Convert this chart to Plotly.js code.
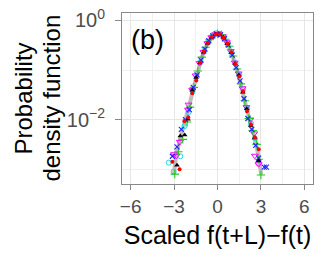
<!DOCTYPE html>
<html>
<head>
<meta charset="utf-8">
<script src="https://cdn.plot.ly/plotly-3.0.1.min.js"></script>
<style>html,body{margin:0;padding:0;background:#fff;}#chart{width:327px;height:256px;}</style>
</head>
<body>
<div id="chart"></div>
<script>
// Reference (theory) curve
var refX = [-3.02,-2.85,-2.55,-2.25,-1.95,-1.65,-1.35,-1.05,-0.75,-0.45,-0.15,0.15,0.45,0.75,1.05,1.35,1.65,1.95,2.25,2.55,2.85,3.02];
var refY = [0.000759,0.00200,0.00447,0.00891,0.0191,0.0447,0.100,0.191,0.316,0.447,0.525,0.525,0.447,0.316,0.191,0.100,0.0447,0.0191,0.00891,0.00447,0.00178,0.000759];

// Red filled circles
var redX = [-3.12,-2.62,-2.29,-2.02,-1.74,-1.47,-1.20,-0.93,-0.66,-0.39,-0.12,0.15,0.42,0.69,0.96,1.23,1.50,1.77,2.04,2.31,2.58,2.85];
var redY = [0.00141,0.00100,0.00933,0.0112,0.0339,0.0617,0.141,0.240,0.355,0.468,0.525,0.525,0.447,0.339,0.229,0.132,0.0741,0.0372,0.0148,0.00794,0.00437,0.00251];

// Black filled triangles
var blackX = [-2.80,-2.57,-2.27,-2.04,-1.74,-1.48,-1.22,-0.95,-0.68,-0.41,-0.14,0.13,0.40,0.67,0.94,1.21,1.48,1.75,2.02,2.29,2.56,2.84];
var blackY = [0.00120,0.00468,0.00490,0.0102,0.0389,0.0708,0.138,0.229,0.347,0.457,0.525,0.525,0.457,0.339,0.224,0.135,0.0794,0.0355,0.0166,0.00759,0.00427,0.00148];

// Green plus
var greenX = [-2.95,-2.70,-2.40,-2.10,-1.90,-1.63,-1.36,-1.09,-0.82,-0.55,-0.28,0.00,0.27,0.54,0.81,1.08,1.35,1.62,1.89,2.16,2.43,2.70,2.85,3.00];
var greenY = [0.000794,0.00224,0.00398,0.00891,0.0178,0.0447,0.0955,0.182,0.288,0.407,0.490,0.537,0.513,0.417,0.302,0.191,0.105,0.0525,0.0240,0.0105,0.00603,0.00316,0.00158,0.000759];

// Blue x
var blueX = [-3.12,-2.80,-2.50,-2.22,-1.95,-1.68,-1.41,-1.14,-0.87,-0.60,-0.33,-0.06,0.21,0.48,0.75,1.02,1.29,1.56,1.83,2.10,2.37,2.64,2.84,3.23,3.38];
var blueY = [0.00182,0.00282,0.00631,0.0100,0.0158,0.0447,0.0794,0.158,0.263,0.389,0.490,0.537,0.513,0.427,0.316,0.200,0.112,0.0603,0.0263,0.0105,0.00631,0.00302,0.00166,0.00110,0.00110];

// Cyan open circles
var cyanX = [-3.37,-3.03,-2.57,-2.27,-2.00,-1.73,-1.46,-1.19,-0.92,-0.65,-0.38,-0.11,0.16,0.43,0.70,0.97,1.24,1.51,1.78,2.05,2.32,2.59,2.80];
var cyanY = [0.00135,0.000891,0.00182,0.00741,0.0141,0.0380,0.0759,0.145,0.245,0.363,0.479,0.550,0.537,0.457,0.339,0.229,0.138,0.0794,0.0417,0.0166,0.00832,0.00417,0.00132];

// Magenta open down-triangles
var magX = [-3.00,-2.84,-2.60,-2.04,-2.00,-1.75,-1.51,-1.24,-0.97,-0.70,-0.43,-0.16,0.11,0.38,0.65,0.92,1.19,1.46,1.73,2.00,2.27,2.54,2.58,2.84];
var magY = [0.00200,0.00186,0.00355,0.0158,0.0200,0.0398,0.0776,0.138,0.229,0.347,0.457,0.525,0.537,0.479,0.363,0.240,0.141,0.0851,0.0427,0.0178,0.0100,0.00525,0.00186,0.00126];

var xTickVals = [-6,-3,0,3,6];
var xTickText = ['\u22126','\u22123','0','3','6'];
var yTickVals = [1,0.01];
var yTickText = ['10<sup>0</sup>','10<sup>\u22122</sup>'];

var traces = [
  {x: refX, y: refY, mode:'lines', line:{color:'#bdbdbd', width:4}, hoverinfo:'skip'},
  {x: cyanX, y: cyanY, mode:'markers', marker:{symbol:'circle-open', size:5, color:'#00e5ee', line:{width:1}}},
  {x: magX, y: magY, mode:'markers', marker:{symbol:'triangle-down-open', size:6, color:'#ff00ff', line:{width:1}}},
  {x: greenX, y: greenY, mode:'markers', marker:{symbol:'cross-thin-open', size:6, color:'#22cc22', line:{width:1.1, color:'#22cc22'}}},
  {x: blueX, y: blueY, mode:'markers', marker:{symbol:'x-thin-open', size:5, color:'#2222ff', line:{width:1.1, color:'#2222ff'}}},
  {x: blackX, y: blackY, mode:'markers', marker:{symbol:'triangle-up', size:5, color:'#000000'}},
  {x: redX, y: redY, mode:'markers', marker:{symbol:'circle', size:4, color:'#ff0000'}}
];

var layout = {
  width: 327, height: 256,
  margin: {l:122, r:14, t:13, b:72},
  paper_bgcolor:'#ffffff', plot_bgcolor:'#ffffff',
  showlegend:false,
  font:{family:'Liberation Sans, Arial, sans-serif', color:'#000'},
  xaxis:{
    range:[-6.6,6.6], tickvals:xTickVals, ticktext:xTickText,
    tickfont:{size:19, color:'#4d4d4d'},
    ticks:'outside', ticklen:5, tickcolor:'#888', tickwidth:1,
    showgrid:true, gridcolor:'#e6e6e6', gridwidth:1,
    minor:{tickvals:[-4.5,-1.5,1.5,4.5], showgrid:true, gridcolor:'#f0f0f0', ticks:''},
    showline:true, mirror:true, linecolor:'#888', linewidth:1,
    zeroline:false,
    title:{text:'Scaled f(t+L)\u2212f(t)', font:{size:25, color:'#000'}, standoff:10}
  },
  yaxis:{
    type:'log', range:[-3.3,0.15], tickvals:yTickVals, ticktext:yTickText,
    tickfont:{size:20, color:'#4d4d4d'},
    ticks:'outside', ticklen:6, tickcolor:'#888', tickwidth:1,
    ticklabelstandoff:6,
    showgrid:true, gridcolor:'#e6e6e6', gridwidth:1,
    minor:{tickvals:[0.1,0.001], showgrid:true, gridcolor:'#f0f0f0', ticks:''},
    showline:true, mirror:true, linecolor:'#888', linewidth:1,
    zeroline:false
  },
  annotations:[
    {text:'(b)', xref:'paper', yref:'paper', x:0.035, y:0.84, xanchor:'left', yanchor:'middle', showarrow:false, font:{size:27, color:'#000'}},
    {text:'Probability', xref:'paper', yref:'paper', x:(23-122)/191, y:0.5, xanchor:'center', yanchor:'middle', textangle:-90, showarrow:false, font:{size:24, color:'#000'}},
    {text:'density function', xref:'paper', yref:'paper', x:(51-122)/191, y:0.5, xanchor:'center', yanchor:'middle', textangle:-90, showarrow:false, font:{size:24, color:'#000'}}
  ]
};

Plotly.newPlot('chart', traces, layout, {displayModeBar:false, staticPlot:true});
</script>
</body>
</html>
